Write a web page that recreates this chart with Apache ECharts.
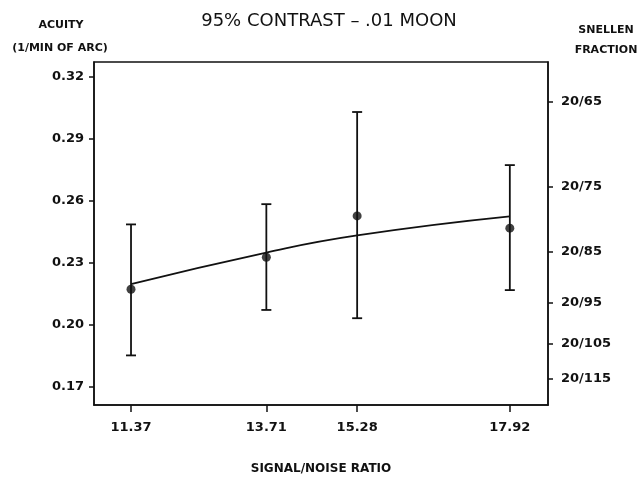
<!DOCTYPE html>
<html>
<head>
<meta charset="utf-8">
<script src="https://cdn.jsdelivr.net/npm/echarts@6/dist/echarts.min.js"></script>
<style>html,body{margin:0;padding:0;background:#fff;}#c{width:639px;height:480px;}</style>
</head>
<body>
<div id="c"></div>
<script>
var snr = [11.37, 13.71, 15.28, 17.92];
var acuity = [0.217, 0.2325, 0.2525, 0.2466];
var errLow = [0.185, 0.207, 0.203, 0.2166];
var errHigh = [0.2484, 0.2582, 0.3028, 0.2771];
var fitCurve = [0.2195, 0.2348, 0.2431, 0.2523];
var leftTicks = [0.17, 0.20, 0.23, 0.26, 0.29, 0.32];
var snellenDenoms = [65, 75, 85, 95, 105, 115];
var snellenValues = snellenDenoms.map(function (d) { return 20 / d; });

var FONT = 'DejaVu Sans';

var chart = echarts.init(document.getElementById('c'), null, { renderer: 'canvas' });
chart.setOption({
  backgroundColor: '#fff',
  animation: false,
  title: [
    { text: '95% CONTRAST \u2013 .01 MOON', left: 324, top: 7, textAlign: 'center',
      textStyle: { fontFamily: FONT, fontWeight: 'normal', fontSize: 18, color: '#111' } },
    { text: 'ACUITY', left: 56, top: 15, textAlign: 'center',
      textStyle: { fontFamily: FONT, fontWeight: 'bold', fontSize: 11, color: '#111' } },
    { text: '(1/MIN OF ARC)', left: 55, top: 38, textAlign: 'center',
      textStyle: { fontFamily: FONT, fontWeight: 'bold', fontSize: 11, color: '#111' } },
    { text: 'SNELLEN', left: 601, top: 20, textAlign: 'center',
      textStyle: { fontFamily: FONT, fontWeight: 'bold', fontSize: 11, color: '#111' } },
    { text: 'FRACTION', left: 601, top: 40, textAlign: 'center',
      textStyle: { fontFamily: FONT, fontWeight: 'bold', fontSize: 11, color: '#111' } }
  ],
  grid: { left: 94, right: 91, top: 62, bottom: 75, show: true, borderColor: '#111', borderWidth: 1.5, backgroundColor: 'transparent' },
  xAxis: {
    type: 'value', min: 10.73, max: 18.58,
    splitLine: { show: false },
    axisLine: { show: true, lineStyle: { color: '#111', width: 1.5 } },
    axisTick: { show: true, inside: false, length: 7, customValues: snr, lineStyle: { color: '#111', width: 1.5 } },
    axisLabel: { customValues: snr, margin: 16, formatter: function (v) { return v.toFixed(2); }, color: '#111', fontFamily: FONT, fontWeight: 'bold', fontSize: 13 },
    name: 'SIGNAL/NOISE RATIO', nameLocation: 'middle', nameGap: 58,
    nameTextStyle: { fontFamily: FONT, fontWeight: 'bold', fontSize: 12, color: '#111' }
  },
  yAxis: [
    {
      type: 'value', min: 0.161, max: 0.327, position: 'left',
      splitLine: { show: false },
      axisLine: { show: true, lineStyle: { color: '#111', width: 1.5 } },
      axisTick: { show: true, inside: false, length: 5, customValues: leftTicks, lineStyle: { color: '#111', width: 1.5 } },
      axisLabel: { customValues: leftTicks, margin: 10, formatter: function (v) { return v.toFixed(2); }, color: '#111', fontFamily: FONT, fontWeight: 'bold', fontSize: 13 }
    },
    {
      type: 'value', min: 0.161, max: 0.327, position: 'right',
      splitLine: { show: false },
      axisLine: { show: true, lineStyle: { color: '#111', width: 1.5 } },
      axisTick: { show: true, inside: false, length: 5, customValues: snellenValues, lineStyle: { color: '#111', width: 1.5 } },
      axisLabel: {
        customValues: snellenValues, margin: 13,
        formatter: function (v) {
          var best = 0, bd = 1e9;
          for (var i = 0; i < snellenValues.length; i++) {
            var d = Math.abs(snellenValues[i] - v);
            if (d < bd) { bd = d; best = i; }
          }
          return '20/' + snellenDenoms[best];
        },
        color: '#111', fontFamily: FONT, fontWeight: 'bold', fontSize: 13
      }
    }
  ],
  series: [
    {
      type: 'custom', name: 'err',
      renderItem: function (params, api) {
        var x = api.value(0);
        var lo = api.coord([x, api.value(1)]);
        var hi = api.coord([x, api.value(2)]);
        var w = 5;
        var st = { stroke: '#111', lineWidth: 1.8 };
        return { type: 'group', children: [
          { type: 'line', shape: { x1: hi[0], y1: hi[1], x2: lo[0], y2: lo[1] }, style: st },
          { type: 'line', shape: { x1: hi[0] - w, y1: hi[1], x2: hi[0] + w, y2: hi[1] }, style: st },
          { type: 'line', shape: { x1: lo[0] - w, y1: lo[1], x2: lo[0] + w, y2: lo[1] }, style: st }
        ] };
      },
      data: snr.map(function (x, i) { return [x, errLow[i], errHigh[i]]; }),
      z: 2
    },
    {
      type: 'line', name: 'fit', smooth: true, showSymbol: false,
      lineStyle: { color: '#111', width: 1.8 },
      data: snr.map(function (x, i) { return [x, fitCurve[i]]; }),
      z: 3
    },
    {
      type: 'scatter', name: 'acuity', symbol: 'circle', symbolSize: 9,
      itemStyle: { color: '#111' },
      data: snr.map(function (x, i) { return [x, acuity[i]]; }),
      z: 4
    }
  ]
});
</script>
</body>
</html>
